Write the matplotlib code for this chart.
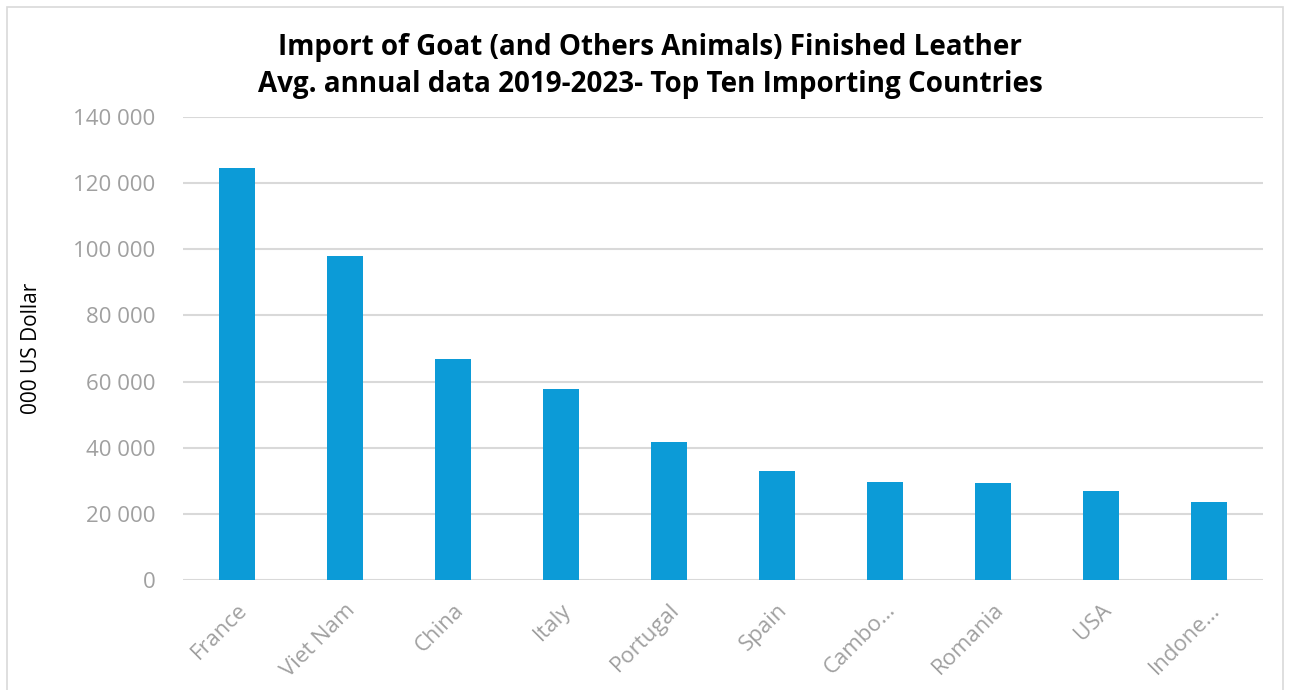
import matplotlib.pyplot as plt
from matplotlib.patches import Rectangle
from matplotlib.ticker import FuncFormatter

countries = ['France', 'Viet Nam', 'China', 'Italy', 'Portugal', 'Spain',
             'Cambo\u2026', 'Romania', 'USA', 'Indone\u2026']
imports = [124600, 98000, 66800, 57800, 41700, 33100, 29700, 29200, 26800, 23600]
yticks = [0, 20000, 40000, 60000, 80000, 100000, 120000, 140000]

plt.rcParams['font.family'] = ['Open Sans', 'DejaVu Sans']

fig = plt.figure(figsize=(12.91, 6.90), dpi=100)
ax = fig.add_axes([183 / 1291, 1 - 580 / 690, 1080 / 1291, 463 / 690])

ax.bar(range(len(countries)), imports, width=0.33, color='#0c9bd7', zorder=3)
ax.set_xlim(-0.5, len(countries) - 0.5)
ax.set_ylim(0, 140000)
ax.set_yticks(yticks)
ax.yaxis.set_major_formatter(FuncFormatter(lambda v, p: f'{int(v):,}'.replace(',', ' ')))
ax.set_xticks(range(len(countries)))
ax.set_xticklabels(countries, rotation=45, ha='right', rotation_mode='anchor')
ax.tick_params(axis='both', length=0, colors='#a0a0a0', labelsize=16)
ax.tick_params(axis='y', pad=20)
ax.tick_params(axis='x', pad=14)
ax.grid(axis='y', color='#d9d9d9', linewidth=1.5, zorder=0)
for s in ax.spines.values():
    s.set_visible(False)

ax.set_ylabel('000 US Dollar', fontsize=15, color='black', labelpad=22)

fig.text(650 / 1291, 1 - 66 / 690,
         'Import of Goat (and Others Animals) Finished Leather\n'
         'Avg. annual data 2019-2023- Top Ten Importing Countries',
         ha='center', va='center', fontsize=20, fontweight='bold',
         linespacing=1.4)

fig.patches.append(Rectangle((7 / 1291, -0.01), 1276 / 1291, 1 - 7 / 690 + 0.01,
                             transform=fig.transFigure, fill=False,
                             edgecolor='#d9d9d9', linewidth=1.2))

fig.savefig('out.png', dpi=100)
